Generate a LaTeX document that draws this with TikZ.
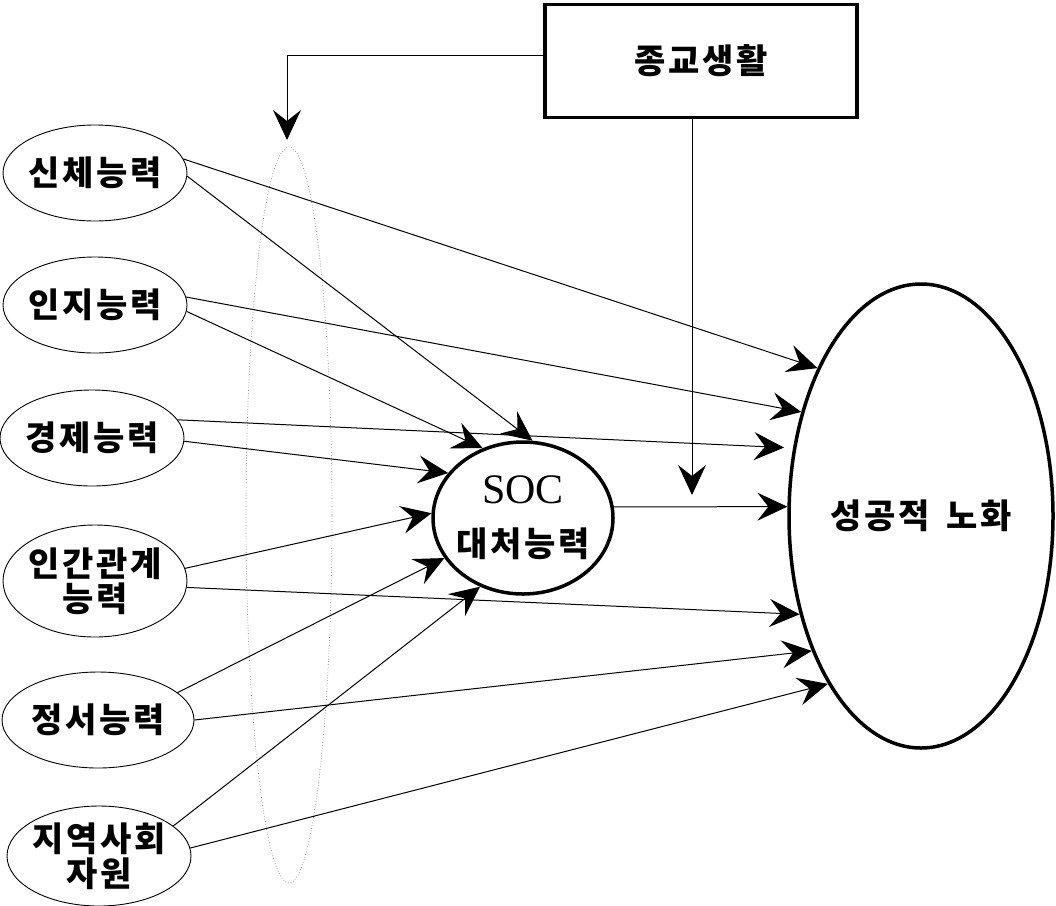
\documentclass[tikz,border=0pt]{standalone}
\usepackage{fontspec}
\setmainfont{Liberation Serif}
\newfontfamily\kor[LetterSpace=8]{Noto Sans CJK KR}
\newfontfamily\socfont{Liberation Serif}
\usetikzlibrary{shapes.geometric,arrows.meta,positioning}
\tikzstyle{ability} = [draw, ellipse, line width=0.9pt, minimum width=184pt, minimum height=96pt, inner xsep=-30pt, inner ysep=0pt, align=center, font=\kor\bfseries\fontsize{34}{35}\selectfont]
\tikzstyle{soc} = [draw, ellipse, line width=3.5pt, minimum width=180pt, minimum height=152pt, inner xsep=-30pt, inner ysep=0pt, align=center, font=\kor\bfseries\fontsize{34}{35}\selectfont]
\tikzstyle{outcome} = [draw, ellipse, line width=3.5pt, minimum width=264pt, minimum height=464pt, inner xsep=-30pt, font=\kor\bfseries\fontsize{34}{35}\selectfont]
\tikzstyle{modbox} = [draw, rectangle, line width=3.5pt, minimum width=312pt, minimum height=113pt, font=\kor\bfseries\fontsize{34}{35}\selectfont]
\tikzstyle{group} = [draw=gray, dotted, ellipse, line width=0.7pt, minimum width=86pt, minimum height=736pt]
\tikzstyle{line} = [draw, line width=1pt, -{Stealth[length=30pt,width=28pt,inset=11pt]}]

\begin{document}
\begin{tikzpicture}[x=1pt,y=1pt]
	\useasboundingbox (0,0) rectangle (1056,-905);

	\node [group] (grp) at (289,-515) {};

	\node [ability] (body) at (95,-173) {신체능력};
	\node [ability] (cogn) at (95,-305) {인지능력};
	\node [ability] (econ) at (92,-438) {경제능력};
	\node [ability, minimum height=112pt] (social) at (95,-581) {인간관계\\능력};
	\node [ability, minimum width=192pt] (emo) at (98,-720) {정서능력};
	\node [ability, minimum height=100pt] (comm) at (99,-856) {지역사회\\자원};

	\node [soc] (soc) at (523,-518) {{\socfont\mdseries\fontsize{42}{42}\selectfont SOC}\\[18pt]대처능력};
	\node [outcome] (aging) at (921,-516) {성공적\hspace{6pt} 노화};
	\node [modbox] (relig) at (701,-61) {종교생활};

	\coordinate (modgrp) at (287,-140);
	\coordinate (modsoc) at (692,-495);

	% abilities -> SOC
	\path [line] (body.-2) -- (soc.83);
	\path [line] (cogn.-4) -- (soc.120);
	\path [line] (econ.-2) -- (soc.149);
	\path [line] (social.8) -- (soc.177);
	\path [line] (emo.19) -- (soc.207);
	\path [line] (comm.22) -- (soc.238);

	% abilities -> successful aging
	\path [line] (body.9.5) -- (aging.125.6);
	\path [line] (cogn.5) -- (aging.139.3);
	\path [line, shorten >=9pt] (econ.12) -- (aging.152);
	\path [line] (social.-4) -- (aging.219.9);
	\path [line] (emo.0) -- (aging.231);
	\path [line] (comm.5) -- (aging.241);

	\path [line] (soc.7) -- (aging.176);

	% moderator
	\path [line] ([yshift=6pt]relig.west) -| (modgrp);
	\path [line] (modsoc |- relig.south) -- (modsoc);
\end{tikzpicture}
\end{document}
